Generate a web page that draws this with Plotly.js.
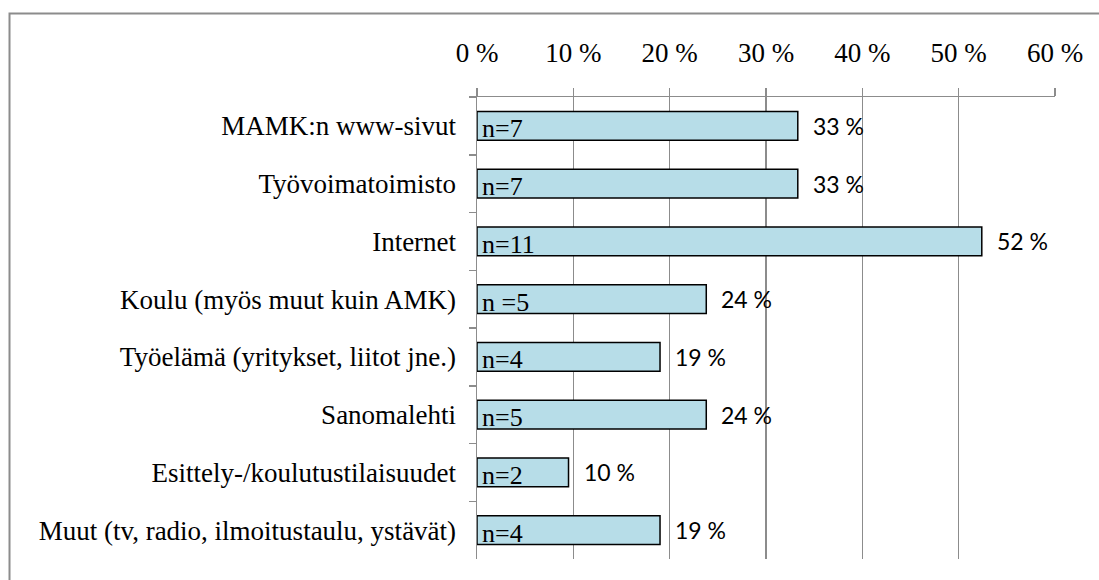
<!DOCTYPE html>
<html>
<head>
<meta charset="utf-8">
<script src="https://cdn.plot.ly/plotly-3.0.1.min.js"></script>
<style>html,body{margin:0;padding:0;background:#fff;}#chart{width:1099px;height:580px;}</style>
</head>
<body>
<div id="chart"></div>
<script>
const categories = [
  "MAMK:n www-sivut",
  "Työvoimatoimisto",
  "Internet",
  "Koulu (myös muut kuin AMK)",
  "Työelämä (yritykset, liitot jne.)",
  "Sanomalehti",
  "Esittely-/koulutustilaisuudet",
  "Muut (tv, radio, ilmoitustaulu, ystävät)"
];
const percentValues = [33.3, 33.3, 52.4, 23.8, 19.0, 23.8, 9.5, 19.0];
const percentLabels = ["33 %", "33 %", "52 %", "24 %", "19 %", "24 %", "10 %", "19 %"];
const countLabels = ["n=7", "n=7", "n=11", "n =5", "n=4", "n=5", "n=2", "n=4"];
const tickValues = [0, 10, 20, 30, 40, 50, 60];
const tickLabels = ["0 %", "10 %", "20 %", "30 %", "40 %", "50 %", "60 %"];

const serif = "Liberation Serif, Times New Roman, serif";
const sans = "Lato, Carlito, Calibri, sans-serif";

const trace = {
  type: "bar",
  orientation: "h",
  x: percentValues,
  y: categories,
  marker: { color: "#b7dde8", line: { color: "#000000", width: 1.5 } },
  hoverinfo: "skip"
};

const annotations = [];
categories.forEach((c, i) => {
  annotations.push({
    x: 0, y: c, xref: "x", yref: "y", text: countLabels[i],
    showarrow: false, xanchor: "left", yanchor: "middle", xshift: 3, yshift: -3,
    font: { family: serif, size: 26, color: "#000" }
  });
  annotations.push({
    x: percentValues[i], y: c, xref: "x", yref: "y", text: percentLabels[i],
    showarrow: false, xanchor: "left", yanchor: "middle", xshift: 13,
    font: { family: sans, size: 23, color: "#000" }
  });
});

const layout = {
  width: 1099, height: 580,
  margin: { l: 477, r: 44, t: 97, b: 21, pad: 0 },
  paper_bgcolor: "#ffffff", plot_bgcolor: "#ffffff",
  showlegend: false,
  bargap: 0.5,
  xaxis: {
    side: "top", range: [0, 60], tickvals: tickValues, ticktext: tickLabels,
    showgrid: true, gridcolor: "#8c8c8c", gridwidth: 1.5,
    showline: true, linecolor: "#8c8c8c", linewidth: 1.5,
    ticks: "outside", ticklen: 8, tickcolor: "#8c8c8c", tickwidth: 1.5,
    ticklabelstandoff: 15,
    zeroline: false, fixedrange: true,
    tickfont: { family: serif, size: 27, color: "#000" }
  },
  yaxis: {
    type: "category", autorange: "reversed",
    showline: true, linecolor: "#8c8c8c", linewidth: 1.5,
    ticks: "outside", tickson: "boundaries", ticklen: 7, tickcolor: "#8c8c8c", tickwidth: 1.5,
    ticklabelstandoff: 14,
    showgrid: false, zeroline: false, fixedrange: true,
    tickfont: { family: serif, size: 27, color: "#000" }
  },
  annotations: annotations,
  shapes: [{
    type: "rect", xref: "paper", yref: "paper",
    x0: -0.8088, x1: 1.08, y0: -0.08, y1: 1.1807,
    line: { color: "#8c8c8c", width: 2 }, fillcolor: "rgba(0,0,0,0)", layer: "below"
  }]
};

Plotly.newPlot("chart", [trace], layout, { displayModeBar: false, staticPlot: true });
</script>
</body>
</html>
